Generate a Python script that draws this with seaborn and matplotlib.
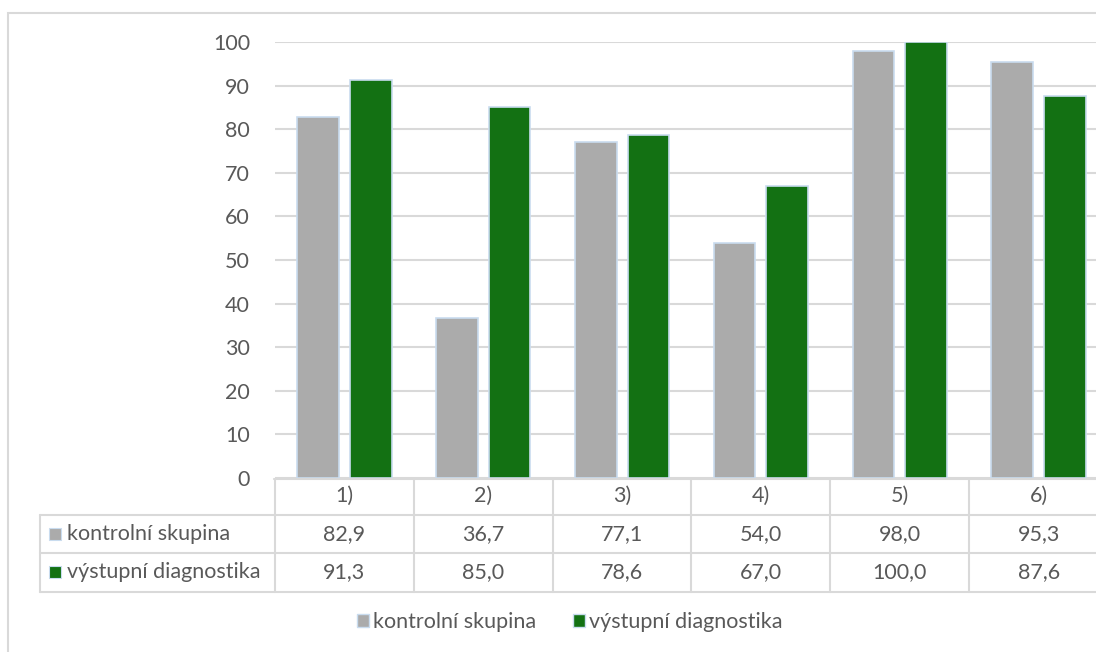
import matplotlib
matplotlib.use("Agg")
import matplotlib.pyplot as plt
import matplotlib.transforms as mtransforms
from matplotlib.patches import Rectangle, Patch
from matplotlib.lines import Line2D
import pandas as pd
import seaborn as sns

# data (data table values)
categories = ["1)", "2)", "3)", "4)", "5)", "6)"]
kontrolni = [82.9, 36.7, 77.1, 54.0, 98.0, 95.3]
vystupni = [91.3, 85.0, 78.6, 67.0, 100.0, 87.6]
series_names = ["kontrolní skupina", "výstupní diagnostika"]
y_ticks = [0, 10, 20, 30, 40, 50, 60, 70, 80, 90, 100]

colors = {series_names[0]: "#ababab", series_names[1]: "#137113"}
text_col = "#595959"
line_col = "#d9d9d9"

df = pd.DataFrame({
    "kategorie": categories * 2,
    "hodnota": kontrolni + vystupni,
    "skupina": [series_names[0]] * len(categories) + [series_names[1]] * len(categories),
})

sns.set_theme(style="white")
plt.rcParams["font.family"] = ["Lato", "DejaVu Sans"]
fs = 15.5

W, H = 1096, 652
fig = plt.figure(figsize=(W / 100, H / 100), dpi=100)


def fx(px):
    return px / W


def fy(py):
    return 1 - py / H


# plot area (the chart is cut off on the right in the original)
ax = fig.add_axes([fx(275), fy(478), fx(1108) - fx(275), fy(42) - fy(478)])
sns.barplot(data=df, x="kategorie", y="hodnota", hue="skupina", palette=colors,
            saturation=1, width=0.76, gap=0.21, edgecolor="#c9dcef", linewidth=1.2,
            legend=False, ax=ax, zorder=3)
ax.set_xlim(-0.5, len(categories) - 0.5)
ax.set_ylim(0, 100)
ax.set_yticks(y_ticks)
ax.set_xticks([])
ax.set_xlabel("")
ax.set_ylabel("")
ax.set_axisbelow(True)
ax.yaxis.grid(True, color=line_col, linewidth=1.5)
ax.tick_params(axis="y", length=0, pad=18, labelsize=fs, labelcolor=text_col)
for s in ax.spines.values():
    s.set_visible(False)

# data table under the plot
tr = mtransforms.blended_transform_factory(ax.transData, fig.transFigure)
ff = fig.transFigure
lw = 1.5
fig.add_artist(Line2D([fx(274), fx(W + 20)], [fy(479), fy(479)], color=line_col, lw=lw, transform=ff))
for py in [515, 553, 592]:
    fig.add_artist(Line2D([fx(40), fx(W + 20)], [fy(py), fy(py)], color=line_col, lw=lw, transform=ff))
fig.add_artist(Line2D([fx(40), fx(40)], [fy(515), fy(592)], color=line_col, lw=lw, transform=ff))
for k in range(len(categories) + 1):
    fig.add_artist(Line2D([k - 0.5, k - 0.5], [fy(479), fy(592)], color=line_col, lw=lw, transform=tr))

for i, cat in enumerate(categories):
    fig.text(i, fy(496), cat, transform=tr, ha="center", va="center", fontsize=fs, color=text_col)
    fig.text(i, fy(534), f"{kontrolni[i]:.1f}".replace(".", ","), transform=tr,
             ha="center", va="center", fontsize=fs, color=text_col)
    fig.text(i, fy(572), f"{vystupni[i]:.1f}".replace(".", ","), transform=tr,
             ha="center", va="center", fontsize=fs, color=text_col)

for name, py in zip(series_names, [534, 572]):
    fig.add_artist(Rectangle((fx(49), fy(py + 6)), fx(12), fy(py - 6) - fy(py + 6),
                             transform=ff, facecolor=colors[name], edgecolor="#c9dcef", lw=0.8))
    fig.text(fx(67), fy(py), name, ha="left", va="center", fontsize=fs, color=text_col)

# legend
handles = [Patch(facecolor=colors[n], edgecolor="#c9dcef", label=n) for n in series_names]
fig.legend(handles=handles, loc="center", bbox_to_anchor=(fx(570), fy(622)), ncol=2,
           frameon=False, fontsize=fs, labelcolor=text_col, handlelength=0.55,
           handleheight=0.55, handletextpad=0.2, columnspacing=1.7)

# outer chart border
fig.add_artist(Rectangle((fx(8), fy(700)), fx(W + 50), fy(13) - fy(700), transform=ff,
                         fill=False, edgecolor=line_col, lw=lw))

fig.savefig("out.png", dpi=100)
